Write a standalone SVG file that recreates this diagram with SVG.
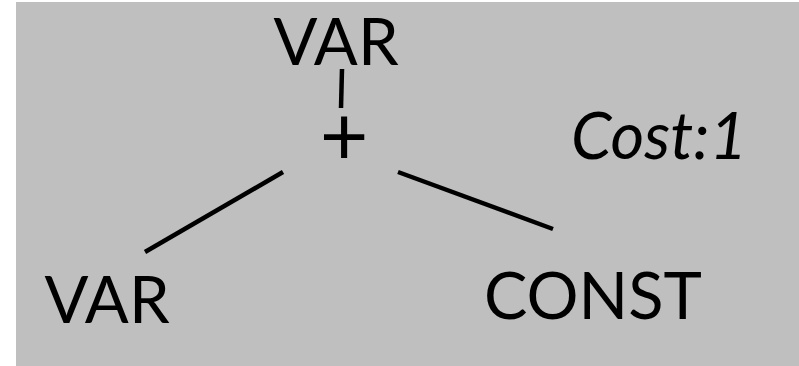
<svg xmlns="http://www.w3.org/2000/svg" width="799" height="366" viewBox="0 0 799 366">
<style>
.t{font-family:Lato,"Open Sans","Noto Sans",sans-serif;fill:#000;font-size:65px}
.c{stroke:#000;stroke-width:4.5;fill:none}
</style>
<rect x="16" y="2" width="783" height="364" fill="#bfbfbf"/>
<g id="connectors">
<line class="c" x1="342" y1="69" x2="341" y2="108"/>
<line class="c" x1="283" y1="172" x2="145" y2="252"/>
<line class="c" x1="398" y1="172" x2="553" y2="229"/>
</g>
<g id="node-var-top"><text class="t" x="336" y="65" text-anchor="middle">VAR</text></g>
<g id="node-plus"><text class="t" x="344" y="165" text-anchor="middle" style="font-size:84px">+</text></g>
<g id="node-var-left"><text class="t" x="107" y="323" text-anchor="middle">VAR</text></g>
<g id="node-const"><text class="t" x="593" y="319" text-anchor="middle">CONST</text></g>
<g id="cost"><text class="t" x="659" y="159" text-anchor="middle" font-style="italic">Cost:1</text></g>
</svg>
